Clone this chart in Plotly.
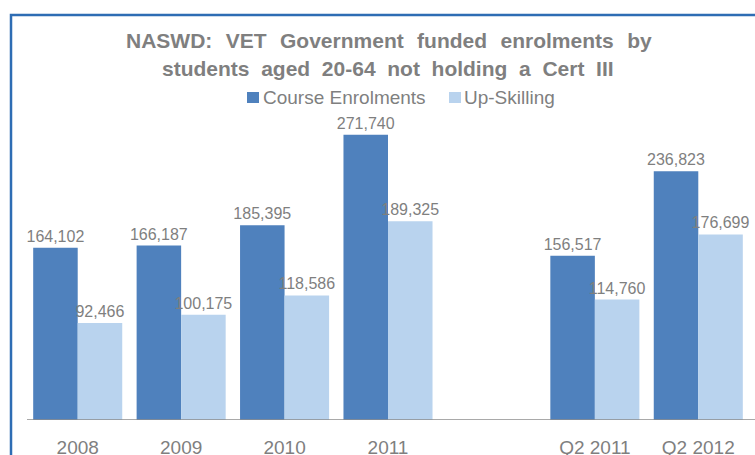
import plotly.graph_objects as go

# Government funded enrolments, students aged 20-64 without a Cert III
categories = ["2008", "2009", "2010", "2011", " ", "Q2 2011", "Q2 2012"]
course_enrolments = [164102, 166187, 185395, 271740, None, 156517, 236823]
up_skilling = [92466, 100175, 118586, 189325, None, 114760, 176699]

series_names = ["Course Enrolments", "Up-Skilling"]
title_lines = ["NASWD: VET Government funded enrolments by",
               "students aged 20-64 not holding a Cert III"]

DARK = "#4F81BD"
LIGHT = "#B9D3EE"
GREY = "#7F7F7F"
FONT = "Liberation Sans, Arial, sans-serif"

W, H = 755, 455
ML, MR, MT, MB = 26, 5, 105, 35
PW, PH = W - ML - MR, H - MT - MB


def px(x):
    return (x - ML) / PW


def py(y):
    return (H - MB - y) / PH


fig = go.Figure()
for name, vals, col in [(series_names[0], course_enrolments, DARK),
                        (series_names[1], up_skilling, LIGHT)]:
    fig.add_trace(go.Bar(
        x=categories, y=vals, name=name,
        marker=dict(color=col, line=dict(width=0)),
        texttemplate="%{y:,}", textposition="outside",
        textfont=dict(family=FONT, size=16, color=GREY),
        constraintext="none", cliponaxis=False,
        showlegend=False,
    ))

shapes = [
    # frame around the chart
    dict(type="rect", xref="paper", yref="paper",
         x0=px(11), x1=px(900), y0=py(15), y1=py(600),
         line=dict(color="#2E6DB4", width=2.5), layer="above"),
    # category axis baseline
    dict(type="line", xref="paper", yref="y",
         x0=px(27), x1=px(760), y0=0, y1=0,
         line=dict(color="#8C8C8C", width=1.3)),
    # legend swatches
    dict(type="rect", xref="paper", yref="paper",
         x0=px(247), x1=px(259), y0=py(92), y1=py(103),
         fillcolor=DARK, line=dict(width=0)),
    dict(type="rect", xref="paper", yref="paper",
         x0=px(449), x1=px(461), y0=py(92), y1=py(103),
         fillcolor=LIGHT, line=dict(width=0)),
]

# the title is set with slightly wide word spacing
gap1 = " \u00a0\u200a"
gap2 = " \u00a0"
annotations = [
    dict(text=title_lines[0].replace(" ", gap1), x=px(388.5), y=py(40),
         xref="paper", yref="paper", xanchor="center", yanchor="middle",
         showarrow=False, font=dict(family=FONT, size=21, color=GREY, weight="bold")),
    dict(text=title_lines[1].replace(" ", gap2), x=px(388), y=py(68),
         xref="paper", yref="paper", xanchor="center", yanchor="middle",
         showarrow=False, font=dict(family=FONT, size=21, color=GREY, weight="bold")),
    dict(text=series_names[0], x=px(261), y=py(97), xref="paper", yref="paper",
         xanchor="left", yanchor="middle", showarrow=False,
         font=dict(family=FONT, size=19, color=GREY)),
    dict(text=series_names[1], x=px(462), y=py(97), xref="paper", yref="paper",
         xanchor="left", yanchor="middle", showarrow=False,
         font=dict(family=FONT, size=19, color=GREY)),
]

fig.update_layout(
    width=W, height=H,
    margin=dict(l=ML, r=MR, t=MT, b=MB, pad=0, autoexpand=False),
    paper_bgcolor="white", plot_bgcolor="white",
    barmode="group", bargap=0.139, bargroupgap=0,
    shapes=shapes, annotations=annotations,
    xaxis=dict(type="category", categoryorder="array", categoryarray=categories,
               showline=False, showgrid=False, ticks="", zeroline=False,
               automargin=False, ticklabelstandoff=14,
               tickfont=dict(family=FONT, size=19, color=GREY)),
    yaxis=dict(range=[0, 300000], visible=False, showgrid=False, zeroline=False,
               automargin=False),
)

fig.write_html("out.html")
